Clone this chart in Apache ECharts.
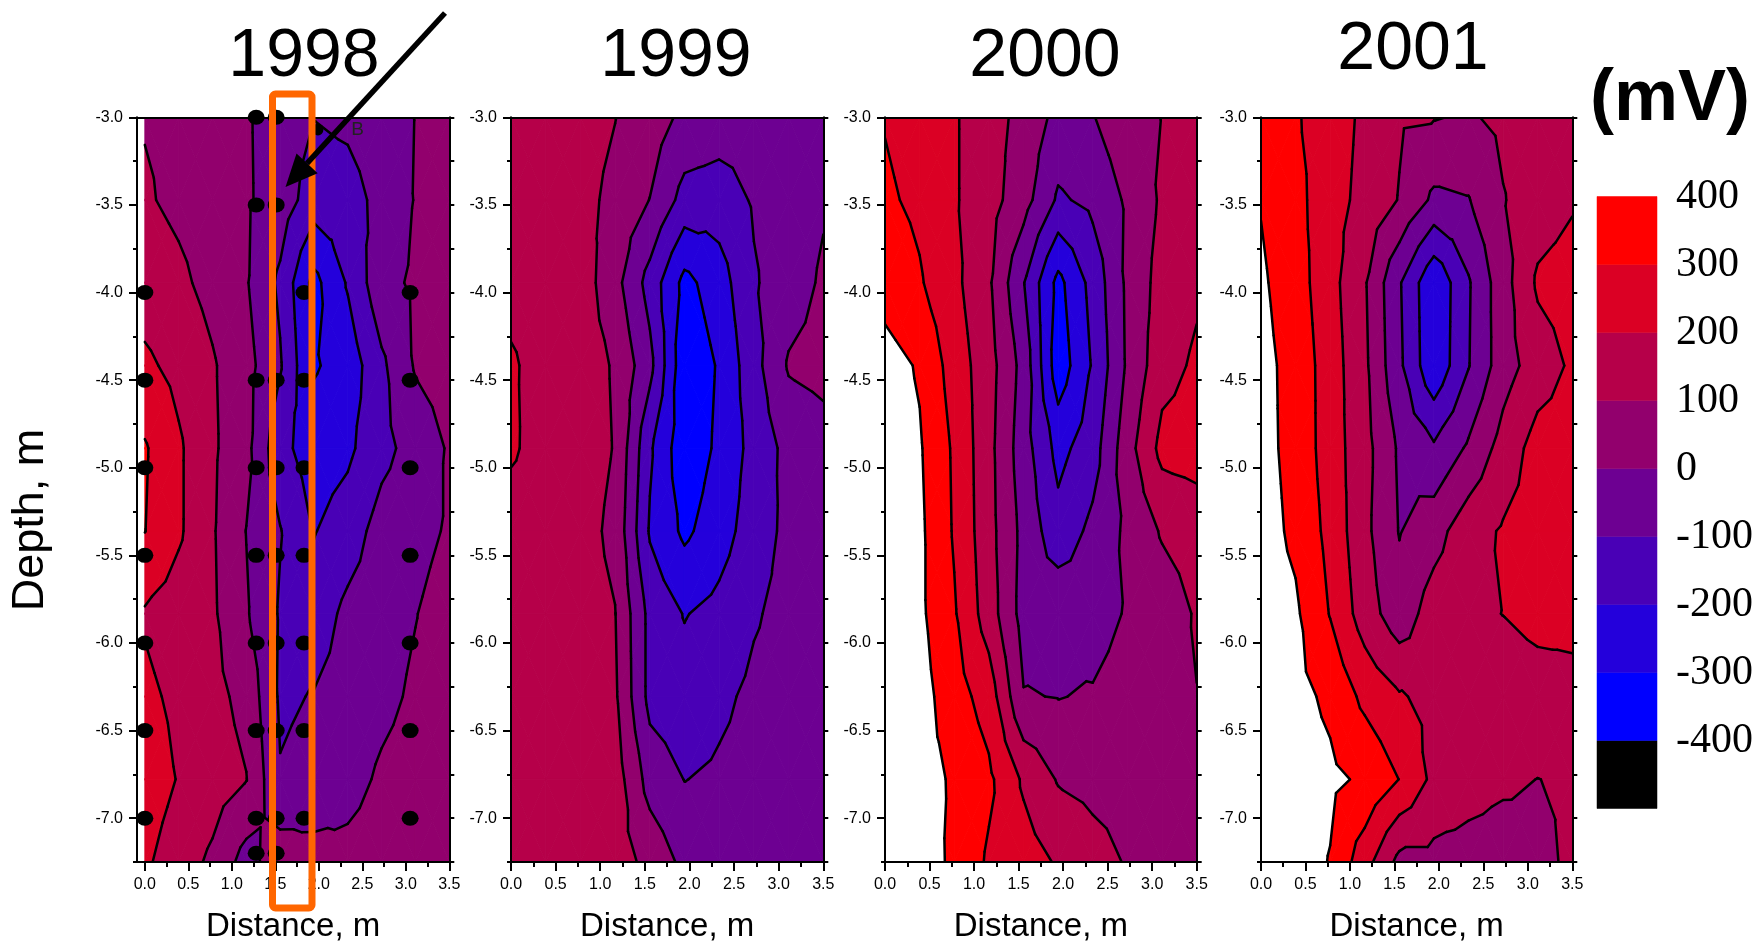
<!DOCTYPE html>
<html>
<head>
<meta charset="utf-8">
<script src="https://cdn.jsdelivr.net/npm/echarts@6/dist/echarts.min.js"></script>
<style>html,body{margin:0;padding:0;background:#fff}#chart{width:1756px;height:948px}</style>
</head>
<body>
<div id="chart"></div>
<script>
// ---------------- DATA ----------------
const years = ['1998', '1999', '2000', '2001'];
// grid nodes of the contour matrices
const distanceNodes = [0, 0.389, 0.778, 1.167, 1.556, 1.944, 2.333, 2.722, 3.111, 3.5];
const depthNodes = [-3.0, -3.472, -3.944, -4.417, -4.889, -5.361, -5.833, -6.306, -6.778, -7.25];
// contour levels (mV) and colour-bar labels
const levels = [-400, -300, -200, -100, 0, 100, 200, 300, 400];
const colorbarLabels = [400, 300, 200, 100, 0, -100, -200, -300, -400];
// potential (mV): rows follow depthNodes, columns follow distanceNodes
const mv1998 = [
  [95, 80, 50, 10, -45, -98, -80, -40, 2, 30],
  [110, 80, 50, 12, -45, -150, -140, -70, 5, 30],
  [150, 120, 70, 8, -120, -330, -190, -30, 15, 35],
  [220, 170, 110, 35, -90, -310, -260, -120, 10, 40],
  [310, 215, 115, 30, -170, -250, -220, -130, -60, 10],
  [302, 215, 110, -2, -95, -205, -150, -60, -30, 10],
  [190, 150, 115, 10, -110, -155, -75, -40, -3, 40],
  [220, 180, 130, 70, -115, -95, -60, -25, 15, 45],
  [250, 195, 150, 103, -93, -70, -35, 15, 40, 55],
  [215, 150, 80, -40, 60, 40, 30, 50, 70, 80]
];
const mv1999 = [
  [170, 165, 140, 102, 55, -25, -48, -55, -50, -40],
  [170, 150, 130, 75, -2, -136, -150, -90, -55, -10],
  [180, 170, 152, 34, -138, -330, -246, -110, -47, 14],
  [208, 175, 150, 90, -70, -375, -290, -135, 10, 30],
  [210, 170, 150, 95, -185, -370, -280, -165, -70, -40],
  [167, 160, 140, 75, -211, -320, -245, -150, -75, -55],
  [165, 160, 145, 103, -130, -205, -170, -110, -70, -60],
  [165, 160, 145, 115, -130, -160, -120, -80, -60, -55],
  [165, 160, 160, 150, -40, -102, -85, -65, -55, -50],
  [165, 160, 160, 150, 70, -25, -50, -50, -50, -45]
];
const mv2000 = [
  [295, 260, 210, 140, 70, -30, -5, 67, 102, 125],
  [315, 280, 210, 140, 40, -115, -75, 15, 115, 130],
  [360, 310, 225, 115, -95, -330, -165, 20, 140, 185],
  [440, 390, 255, 140, -35, -360, -190, 15, 165, 215],
  [450, 410, 285, 130, -55, -232, -145, 60, 230, 245],
  [450, 420, 290, 135, -30, -164, -75, 20, 110, 140],
  [450, 420, 310, 150, -39, -19, -40, 8, 45, 110],
  [450, 440, 345, 255, 5, -3, 8, 40, 65, 98],
  [460, 430, 390, 320, 185, 92, 70, 60, 60, 65],
  [460, 440, 385, 285, 245, 190, 140, 92, 75, 70]
];
const mv2001 = [
  [350, 310, 250, 180, 110, 105, 90, 120, 140, 150],
  [395, 330, 240, 170, 95, -20, -5, 95, 150, 190],
  [415, 345, 235, 110, -90, -285, -110, 60, 215, 240],
  [430, 365, 250, 120, -80, -280, -105, 55, 150, 215],
  [430, 370, 250, 135, -15, -85, 15, 140, 240, 250],
  [440, 380, 270, 125, -5, 60, 160, 210, 240, 245],
  [450, 415, 295, 150, 40, 150, 185, 201, 220, 220],
  [450, 430, 380, 275, 210, 170, 160, 160, 170, 178],
  [460, 450, 420, 385, 298, 175, 140, 115, 99, 110],
  [460, 450, 395, 240, 70, 70, 60, 55, 70, 120]
];
// 1998 measurement points
const dotsDistance = [0, 0, 0, 0, 0, 0, 0,
  1.28, 1.28, 1.28, 1.28, 1.28, 1.28, 1.28, 1.28, 1.28,
  1.51, 1.51, 1.51, 1.51, 1.51, 1.51, 1.51, 1.51, 1.51,
  1.83, 1.83, 1.83, 1.83, 1.83, 1.83, 1.83,
  3.05, 3.05, 3.05, 3.05, 3.05, 3.05, 3.05, 1.99];
const dotsDepth = [-4.0, -4.5, -5.0, -5.5, -6.0, -6.5, -7.0,
  -3.0, -3.5, -4.5, -5.0, -5.5, -6.0, -6.5, -7.0, -7.2,
  -3.0, -3.5, -4.5, -5.0, -5.5, -6.0, -6.5, -7.0, -7.2,
  -4.0, -4.5, -5.0, -5.5, -6.0, -6.5, -7.0,
  -4.0, -4.5, -5.0, -5.5, -6.0, -6.5, -7.0, -3.07];
// axis ticks
const xMajorTicks = [0, 0.5, 1.0, 1.5, 2.0, 2.5, 3.0, 3.5];
const xMinorTicks = [0.25, 0.75, 1.25, 1.75, 2.25, 2.75, 3.25];
const yMajorTicks = [-3.0, -3.5, -4.0, -4.5, -5.0, -5.5, -6.0, -6.5, -7.0];
const yMinorTicks = [-3.25, -3.75, -4.25, -4.75, -5.25, -5.75, -6.25, -6.75, -7.25];

// ---------------- STYLE / LAYOUT ----------------
const bandColors = ['#000000', '#0000FF', '#2400DB', '#4900B6', '#6D0092', '#92006D', '#B60049', '#DB0024', '#FF0000'];
const panelData = [mv1998, mv1999, mv2000, mv2001];
const panelLayout = [
  {left: 137, width: 312.3, xMin: -0.09, title: [304, 57]},
  {left: 511, width: 312.3, xMin: 0, title: [676, 57]},
  {left: 885, width: 311.7, xMin: 0, title: [1045, 57]},
  {left: 1261, width: 311.3, xMin: 0, title: [1413, 50]}
];
const plotTop = 117.3, plotHeight = 747;
const FONT = 'Liberation Sans';

// ---------------- CONTOURING (triangulated linear interpolation) ----------------
function clip(poly, L, above) {
  const out = [];
  const n = poly.length;
  const inside = p => above ? p.v >= L : p.v < L;
  for (let i = 0; i < n; i++) {
    const P = poly[i], Q = poly[(i + 1) % n];
    const ip = inside(P), iq = inside(Q);
    if (ip) out.push(P);
    if (ip !== iq) {
      const t = (L - P.v) / (Q.v - P.v);
      out.push({x: P.x + t * (Q.x - P.x), y: P.y + t * (Q.y - P.y), v: L});
    }
  }
  return out;
}
function area(poly) {
  let a = 0;
  for (let i = 0; i < poly.length; i++) {
    const p = poly[i], q = poly[(i + 1) % poly.length];
    a += p.x * q.y - q.x * p.y;
  }
  return Math.abs(a / 2);
}
function buildContours(values) {
  const fills = [], segs = [];
  const xs = distanceNodes, ys = depthNodes;
  for (let r = 0; r < ys.length - 1; r++) {
    for (let c = 0; c < xs.length - 1; c++) {
      const A = {x: xs[c], y: ys[r], v: values[r][c]};
      const B = {x: xs[c + 1], y: ys[r], v: values[r][c + 1]};
      const C = {x: xs[c + 1], y: ys[r + 1], v: values[r + 1][c + 1]};
      const D = {x: xs[c], y: ys[r + 1], v: values[r + 1][c]};
      const M = {x: (A.x + B.x) / 2, y: (A.y + D.y) / 2, v: (A.v + B.v + C.v + D.v) / 4};
      for (const tri of [[A, B, M], [B, C, M], [C, D, M], [D, A, M]]) {
        for (let k = 0; k < bandColors.length; k++) {
          let poly = tri;
          if (k > 0) poly = clip(poly, levels[k - 1], true);
          if (poly.length >= 3) poly = clip(poly, levels[k], false);
          if (poly.length >= 3 && area(poly) > 1e-9) {
            fills.push({pts: poly.map(p => [p.x, p.y]), color: bandColors[k]});
          }
        }
        for (const L of levels) {
          const pts = [];
          for (let i = 0; i < 3; i++) {
            const P = tri[i], Q = tri[(i + 1) % 3];
            if ((P.v >= L) !== (Q.v >= L)) {
              const t = (L - P.v) / (Q.v - P.v);
              pts.push([P.x + t * (Q.x - P.x), P.y + t * (Q.y - P.y)]);
            }
          }
          if (pts.length === 2) segs.push(pts);
        }
      }
    }
  }
  return {fills, segs};
}

// ---------------- OPTION ----------------
const axisLineStyle = {color: '#000', width: 2};
const grids = [], xAxes = [], yAxes = [], series = [];
const allYTicks = yMajorTicks.concat(yMinorTicks);

panelLayout.forEach((p, i) => {
  grids.push({left: p.left, top: plotTop, width: p.width, height: plotHeight, containLabel: false});
  const xBase = {gridIndex: i, type: 'value', min: p.xMin, max: 3.5, z: 10, splitLine: {show: false}};
  xAxes.push(Object.assign({}, xBase, {
    position: 'bottom',
    axisLine: {show: true, onZero: false, lineStyle: axisLineStyle},
    axisTick: {show: true, customValues: xMajorTicks, length: 9, lineStyle: axisLineStyle},
    axisLabel: {show: true, customValues: xMajorTicks, formatter: v => v.toFixed(1),
      fontFamily: FONT, fontSize: 16, color: '#000', margin: 15},
    name: 'Distance, m', nameLocation: 'middle', nameGap: 48,
    nameTextStyle: {fontFamily: FONT, fontSize: 33, color: '#000'}
  }));
  xAxes.push(Object.assign({}, xBase, {
    position: 'bottom',
    axisLine: {show: false, onZero: false},
    axisTick: {show: true, customValues: xMinorTicks, length: 5, lineStyle: axisLineStyle},
    axisLabel: {show: false}
  }));
  xAxes.push(Object.assign({}, xBase, {
    position: 'top',
    axisLine: {show: true, onZero: false, lineStyle: axisLineStyle},
    axisTick: {show: false}, axisLabel: {show: false}
  }));
  const yBase = {gridIndex: i, type: 'value', min: -7.25, max: -3.0, z: 10, splitLine: {show: false}};
  yAxes.push(Object.assign({}, yBase, {
    position: 'left',
    axisLine: {show: true, onZero: false, lineStyle: axisLineStyle},
    axisTick: {show: true, customValues: yMajorTicks, length: 8, lineStyle: axisLineStyle},
    axisLabel: {show: true, customValues: yMajorTicks, formatter: v => v.toFixed(1),
      fontFamily: FONT, fontSize: 16, color: '#000', margin: 14}
  }));
  yAxes.push(Object.assign({}, yBase, {
    position: 'left',
    axisLine: {show: false, onZero: false},
    axisTick: {show: true, customValues: yMinorTicks, length: 4, lineStyle: axisLineStyle},
    axisLabel: {show: false}
  }));
  yAxes.push(Object.assign({}, yBase, {
    position: 'right',
    axisLine: {show: true, onZero: false, lineStyle: axisLineStyle},
    axisTick: {show: true, customValues: allYTicks, length: 5, lineStyle: axisLineStyle},
    axisLabel: {show: false}
  }));

  const cont = buildContours(panelData[i]);
  series.push({
    type: 'custom', name: years[i] + ' fill', xAxisIndex: 3 * i, yAxisIndex: 3 * i,
    coordinateSystem: 'cartesian2d', clip: true, silent: true, z: 1, progressive: 0,
    data: cont.fills.map((f, k) => [k]),
    renderItem: (params, api) => {
      const f = cont.fills[params.dataIndex];
      const color = f.color;
      return {type: 'polygon', shape: {points: f.pts.map(q => api.coord(q))},
        style: {fill: color, stroke: color, lineWidth: 0.9}};
    }
  });
  series.push({
    type: 'custom', name: years[i] + ' lines', xAxisIndex: 3 * i, yAxisIndex: 3 * i,
    coordinateSystem: 'cartesian2d', clip: true, silent: true, z: 2, progressive: 0,
    data: cont.segs.map((s, k) => [k]),
    renderItem: (params, api) => {
      const s = cont.segs[params.dataIndex];
      const a = api.coord(s[0]), b = api.coord(s[1]);
      return {type: 'line', shape: {x1: a[0], y1: a[1], x2: b[0], y2: b[1]},
        style: {stroke: '#000', lineWidth: 2.5, lineCap: 'round'}};
    }
  });
});

// 1998 measurement dots
series.push({
  type: 'scatter', xAxisIndex: 0, yAxisIndex: 0, clip: true, silent: true, z: 5,
  symbol: 'circle',
  symbolSize: (v, params) => params.dataIndex === dotsDistance.length - 1 ? [11, 12] : [17, 15],
  itemStyle: {color: '#000', opacity: 1},
  data: dotsDistance.map((x, k) => [x, dotsDepth[k]])
});

// colour bar
grids.push({left: 1597, top: 196.5, width: 61.5, height: 612, containLabel: false});
xAxes.push({gridIndex: 4, type: 'value', min: 0, max: 1, show: false});
yAxes.push({gridIndex: 4, type: 'value', min: -500, max: 400, interval: 100, position: 'right',
  axisLine: {show: false}, axisTick: {show: false}, splitLine: {show: false},
  axisLabel: {show: true, showMinLabel: true, showMaxLabel: true, interval: 0,
    formatter: v => (colorbarLabels.indexOf(v) >= 0 ? String(v) : ''),
    fontFamily: 'Liberation Serif', fontSize: 42, color: '#000', margin: 19}});
const colorbarBands = [-500].concat(levels);
series.push({
  type: 'custom', xAxisIndex: 12, yAxisIndex: 12, coordinateSystem: 'cartesian2d', silent: true,
  data: bandColors.map((c, k) => [0, colorbarBands[k], colorbarBands[k + 1]]),
  renderItem: (params, api) => {
    const p0 = api.coord([0, api.value(2)]);
    const p1 = api.coord([1, api.value(1)]);
    const col = bandColors[params.dataIndex];
    return {type: 'rect', shape: {x: p0[0], y: p0[1], width: p1[0] - p0[0], height: p1[1] - p0[1]},
      style: {fill: col, stroke: col, lineWidth: 0.5}};
  }
});

// text & annotations
const graphics = [];
panelLayout.forEach((p, i) => {
  graphics.push({type: 'text', z: 100, style: {text: years[i], x: p.title[0], y: p.title[1],
    fontFamily: FONT, fontSize: 68, fill: '#000', align: 'center', verticalAlign: 'middle'}});
});
graphics.push({type: 'text', z: 100, style: {text: '(mV)', x: 1670, y: 100,
  fontFamily: FONT, fontSize: 72, fontWeight: 'bold', fill: '#000', align: 'center', verticalAlign: 'middle'}});
graphics.push({type: 'text', z: 100, x: 31, y: 520, rotation: Math.PI / 2, style: {text: 'Depth, m', x: 0, y: 0,
  fontFamily: FONT, fontSize: 45, fill: '#000', align: 'center', verticalAlign: 'middle'}});
graphics.push({type: 'text', z: 100, style: {text: 'B', x: 357.5, y: 130,
  fontFamily: FONT, fontSize: 19, fill: '#222', align: 'center', verticalAlign: 'middle'}});
graphics.push({type: 'rect', z: 100, shape: {x: 272.5, y: 94, width: 39.5, height: 814, r: 3},
  style: {fill: 'none', stroke: '#FF6600', lineWidth: 7}});
graphics.push({type: 'line', z: 101, shape: {x1: 445, y1: 13, x2: 307, y2: 163.4},
  style: {stroke: '#000', lineWidth: 5.5}});
graphics.push({type: 'polygon', z: 101, shape: {points: [[285.5, 187], [296.5, 153.6], [317.7, 173.2]]},
  style: {fill: '#000'}});

const option = {
  backgroundColor: '#ffffff',
  animation: false,
  grid: grids,
  xAxis: xAxes,
  yAxis: yAxes,
  series: series,
  graphic: graphics
};
const chart = echarts.init(document.getElementById('chart'), null, {renderer: 'canvas', width: 1756, height: 948});
chart.setOption(option);
</script>
</body>
</html>
